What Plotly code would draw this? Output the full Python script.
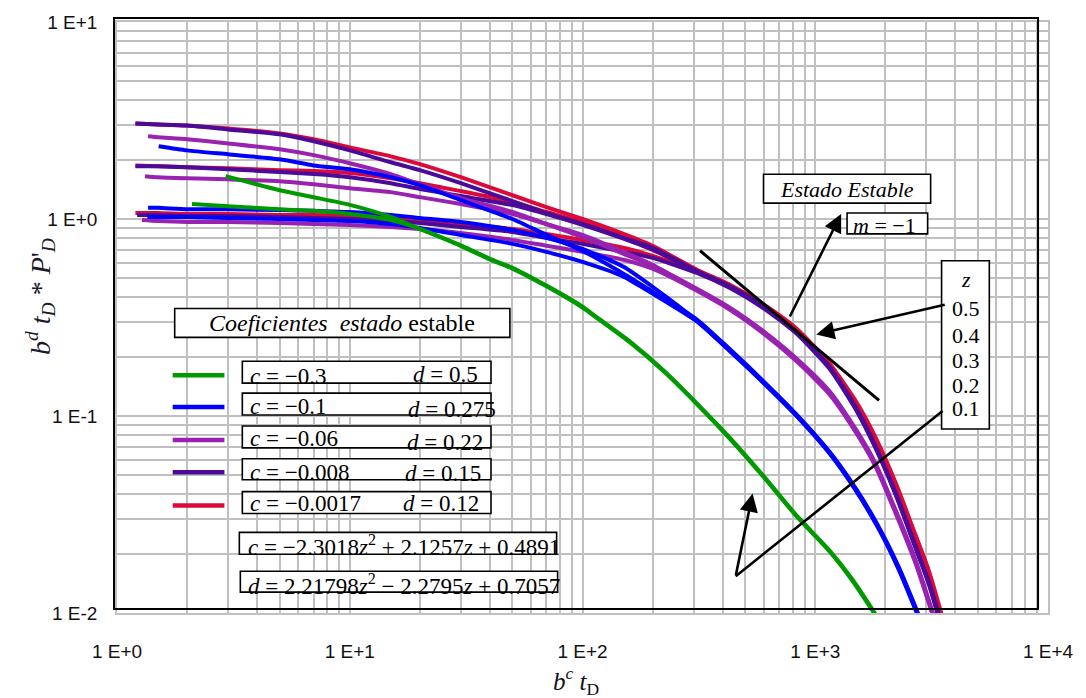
import plotly.graph_objects as go

# ---- curve data: dimensionless time vs. scaled pressure derivative ----
# Each colour holds three curves (different start levels) that merge at late time.
RED_A_X = [1.2, 1.5, 2, 3, 5, 7, 10, 15, 20, 30, 50, 70, 100, 150, 200, 310, 430, 600, 830, 1150, 1500, 1820, 2220, 2620, 3070, 3520]
RED_A_Y = [3.05, 3.02, 2.98, 2.88, 2.72, 2.54, 2.31, 2.08, 1.90, 1.63, 1.32, 1.15, 1.00, 0.840, 0.731, 0.553, 0.464, 0.368, 0.278, 0.185, 0.118, 0.0775, 0.0455, 0.0272, 0.0165, 0.0095]
RED_B_X = [1.2, 1.5, 2, 3, 5, 7, 10, 15, 20, 30, 50, 70, 100, 150, 200, 310, 430, 600, 830, 1150, 1500, 1820, 2220, 2620, 3070, 3480]
RED_B_Y = [1.87, 1.85, 1.83, 1.81, 1.77, 1.75, 1.71, 1.61, 1.52, 1.385, 1.219, 1.085, 0.966, 0.802, 0.697, 0.548, 0.458, 0.362, 0.273, 0.182, 0.116, 0.0760, 0.0447, 0.0268, 0.0162, 0.0095]
RED_C_X = [1.2, 1.5, 2, 3, 5, 7, 10, 15, 20, 30, 50, 70, 100, 150, 200, 310, 430, 600, 830, 1150, 1500, 1820, 2220, 2620, 3070, 3460]
RED_C_Y = [1.072, 1.072, 1.060, 1.060, 1.048, 1.048, 1.036, 1.012, 0.988, 0.943, 0.890, 0.840, 0.783, 0.714, 0.650, 0.540, 0.452, 0.357, 0.270, 0.180, 0.114, 0.0750, 0.0440, 0.0264, 0.0160, 0.0095]

INDIGO_A_X = [1.2, 1.5, 2, 3, 5, 7, 10, 15, 20, 30, 50, 70, 100, 150, 200, 310, 430, 600, 830, 1150, 1500, 1820, 2220, 2620, 3070, 3420]
INDIGO_A_Y = [3.05, 3.02, 2.98, 2.85, 2.69, 2.48, 2.23, 1.94, 1.77, 1.52, 1.233, 1.072, 0.943, 0.802, 0.714, 0.545, 0.455, 0.360, 0.268, 0.178, 0.110, 0.0700, 0.0405, 0.0240, 0.0145, 0.0095]
INDIGO_B_X = [1.2, 1.5, 2, 3, 5, 7, 10, 15, 20, 30, 50, 70, 100, 150, 200, 310, 430, 600, 830, 1150, 1500, 1820, 2220, 2620, 3070, 3400]
INDIGO_B_Y = [1.85, 1.85, 1.83, 1.79, 1.73, 1.69, 1.63, 1.52, 1.42, 1.307, 1.177, 1.060, 0.935, 0.795, 0.700, 0.540, 0.450, 0.356, 0.265, 0.176, 0.108, 0.0690, 0.0400, 0.0237, 0.0143, 0.0095]
INDIGO_C_X = [1.22, 1.5, 2, 3, 5, 7, 10, 15, 20, 30, 50, 70, 100, 150, 200, 310, 430, 600, 830, 1150, 1500, 1820, 2220, 2620, 3070, 3390]
INDIGO_C_Y = [1.048, 1.048, 1.036, 1.036, 1.024, 1.012, 1.000, 0.977, 0.954, 0.911, 0.860, 0.802, 0.748, 0.681, 0.635, 0.532, 0.446, 0.352, 0.262, 0.174, 0.107, 0.0682, 0.0396, 0.0234, 0.0141, 0.0095]

PURPLE_A_X = [1.36, 1.5, 2, 3, 5, 7, 10, 15, 20, 30, 50, 70, 100, 150, 200, 310, 430, 600, 830, 1150, 1500, 1820, 2220, 2700, 3250]
PURPLE_A_Y = [2.63, 2.60, 2.54, 2.42, 2.26, 2.11, 1.92, 1.69, 1.50, 1.277, 1.085, 0.943, 0.811, 0.666, 0.579, 0.443, 0.355, 0.269, 0.196, 0.134, 0.0850, 0.0572, 0.0331, 0.0185, 0.0095]
PURPLE_B_X = [1.32, 1.5, 2, 3, 5, 7, 10, 15, 20, 30, 50, 70, 100, 150, 200, 310, 430, 600, 830, 1150, 1500, 1820, 2220, 2700, 3230]
PURPLE_B_Y = [1.65, 1.63, 1.61, 1.59, 1.556, 1.502, 1.434, 1.369, 1.291, 1.191, 1.060, 0.943, 0.830, 0.681, 0.586, 0.438, 0.350, 0.265, 0.193, 0.131, 0.0832, 0.0560, 0.0324, 0.0181, 0.0095]
PURPLE_C_X = [1.28, 1.5, 2, 3, 5, 7, 10, 15, 20, 30, 50, 70, 100, 150, 200, 310, 430, 600, 830, 1150, 1500, 1820, 2220, 2700, 3220]
PURPLE_C_Y = [0.988, 0.977, 0.966, 0.966, 0.954, 0.943, 0.933, 0.911, 0.890, 0.850, 0.783, 0.731, 0.681, 0.621, 0.559, 0.432, 0.346, 0.262, 0.190, 0.129, 0.0820, 0.0551, 0.0319, 0.0178, 0.0095]

BLUE_A_X = [1.51, 2, 3, 5, 7, 10, 15, 20, 30, 50, 70, 100, 150, 200, 310, 430, 600, 830, 1150, 1500, 1880, 2290, 2790]
BLUE_A_Y = [2.34, 2.23, 2.13, 2.01, 1.87, 1.79, 1.63, 1.485, 1.247, 1.000, 0.830, 0.689, 0.528, 0.428, 0.309, 0.218, 0.150, 0.102, 0.0660, 0.0425, 0.0272, 0.0170, 0.0097]
BLUE_B_X = [1.36, 1.5, 2, 3, 5, 7, 10, 15, 20, 30, 50, 70, 100, 150, 200, 310, 430, 600, 830, 1150, 1500, 1880, 2290, 2770]
BLUE_B_Y = [1.14, 1.14, 1.12, 1.12, 1.11, 1.10, 1.085, 1.048, 1.012, 0.966, 0.880, 0.802, 0.705, 0.572, 0.453, 0.305, 0.215, 0.148, 0.101, 0.0652, 0.0419, 0.0268, 0.0167, 0.0097]
BLUE_C_X = [1.35, 1.5, 2, 3, 5, 7, 10, 15, 20, 30, 50, 70, 100, 150, 200, 310, 430, 600, 830, 1150, 1500, 1880, 2290, 2760]
BLUE_C_Y = [1.024, 1.024, 1.024, 1.012, 1.000, 0.988, 0.977, 0.943, 0.901, 0.830, 0.748, 0.681, 0.606, 0.510, 0.418, 0.302, 0.213, 0.147, 0.100, 0.0646, 0.0415, 0.0265, 0.0165, 0.0097]

GREEN_A_X = [2.93, 5, 7, 10, 15, 20, 30, 40, 50, 70, 100, 115, 160, 225, 310, 430, 600, 830, 1150, 1450, 1820]
GREEN_A_Y = [1.65, 1.40, 1.29, 1.18, 1.024, 0.890, 0.735, 0.628, 0.566, 0.459, 0.359, 0.318, 0.239, 0.169, 0.116, 0.0774, 0.0495, 0.0313, 0.0208, 0.0147, 0.0098]
GREEN_B_X = [2.1, 3, 5, 7, 10, 15, 20, 30, 40, 50, 70, 100, 115, 160, 225, 310, 430, 600, 830, 1150, 1450, 1810]
GREEN_B_Y = [1.19, 1.16, 1.12, 1.10, 1.06, 0.988, 0.890, 0.730, 0.624, 0.560, 0.455, 0.355, 0.315, 0.236, 0.167, 0.115, 0.0766, 0.0490, 0.0310, 0.0206, 0.0145, 0.0098]

# steady-state straight line of unit slope (m = -1)
TANGENT_X = [320, 1880]
TANGENT_Y = [0.69, 0.12]

# legend rows: colour, c value, d value
LEGEND_COLORS = ["#009A00", "#0000FF", "#9A22B0", "#4A0A9A", "#DC0A3A"]
LEGEND_C = ["−0.3", "−0.1", "−0.06", "−0.008", "−0.0017"]
LEGEND_D = ["0.5", "0.275", "0.22", "0.15", "0.12"]
Z_LABELS = ["0.5", "0.4", "0.3", "0.2", "0.1"]

X_TICKS = [1, 10, 100, 1000, 10000]
X_TICKTEXT = ["1 E+0", "1 E+1", "1 E+2", "1 E+3", "1 E+4"]
Y_TICKS = [0.01, 0.1, 1, 10]
Y_TICKTEXT = ["1 E-2", "1 E-1", "1 E+0", "1 E+1"]

GREEN, BLUE, PURPLE, INDIGO, RED = LEGEND_COLORS

W, H = 1086, 698
ML, MR, MT, MB = 117, 33, 19, 85
PW, PH = W - ML - MR, H - MT - MB


def px(x):
    return (x - ML) / PW


def py(y):
    return (H - MB - y) / PH


SERIF = "Liberation Serif, Times New Roman, serif"
SANS = "Liberation Sans, Arial, sans-serif"

fig = go.Figure()

curves = [
    (RED_A_X, RED_A_Y, RED), (RED_B_X, RED_B_Y, RED), (RED_C_X, RED_C_Y, RED),
    (INDIGO_A_X, INDIGO_A_Y, INDIGO), (INDIGO_B_X, INDIGO_B_Y, INDIGO), (INDIGO_C_X, INDIGO_C_Y, INDIGO),
    (PURPLE_A_X, PURPLE_A_Y, PURPLE), (PURPLE_B_X, PURPLE_B_Y, PURPLE), (PURPLE_C_X, PURPLE_C_Y, PURPLE),
    (BLUE_A_X, BLUE_A_Y, BLUE), (BLUE_B_X, BLUE_B_Y, BLUE), (BLUE_C_X, BLUE_C_Y, BLUE),
    (GREEN_A_X, GREEN_A_Y, GREEN), (GREEN_B_X, GREEN_B_Y, GREEN),
]
for xs, ys, col in curves:
    fig.add_trace(go.Scatter(x=xs, y=ys, mode="lines", line=dict(color=col, width=4, shape="spline", smoothing=0.6),
                             showlegend=False, hoverinfo="skip"))

fig.add_trace(go.Scatter(x=TANGENT_X, y=TANGENT_Y, mode="lines",
                         line=dict(color="black", width=3), showlegend=False, hoverinfo="skip"))

minor_x = [k * 10 ** n for n in range(0, 4) for k in range(2, 10)]
minor_y = [k * 10.0 ** n for n in range(-2, 1) for k in range(2, 10)]

grid_col = "#c0c0c0"
fig.update_xaxes(type="log", range=[0, 4], tickvals=X_TICKS, ticktext=X_TICKTEXT,
                 showgrid=True, gridcolor=grid_col, gridwidth=1.6,
                 minor=dict(tickvals=minor_x, showgrid=True, gridcolor=grid_col, gridwidth=1.6, ticks=""),
                 ticks="outside", ticklen=20, tickcolor="rgba(0,0,0,0)",
                 tickfont=dict(family=SANS, size=19, color="#111"),
                 showline=True, linecolor=grid_col, linewidth=1.6, mirror=True, zeroline=False)
fig.update_yaxes(type="log", range=[-2, 1], tickvals=Y_TICKS, ticktext=Y_TICKTEXT,
                 showgrid=True, gridcolor=grid_col, gridwidth=1.6,
                 minor=dict(tickvals=minor_y, showgrid=True, gridcolor=grid_col, gridwidth=1.6, ticks=""),
                 ticks="outside", ticklen=14, tickcolor="rgba(0,0,0,0)",
                 tickfont=dict(family=SANS, size=19, color="#111"),
                 showline=True, linecolor=grid_col, linewidth=1.6, mirror=True, zeroline=False)

shapes = []
# black chart frame
shapes.append(dict(type="rect", xref="paper", yref="paper", x0=px(114), x1=px(1043), y0=py(609), y1=py(15),
                   line=dict(color="black", width=2), fillcolor="rgba(0,0,0,0)", layer="above"))


def box(x0, y0, x1, y1):
    shapes.append(dict(type="rect", xref="paper", yref="paper", x0=px(x0), x1=px(x1), y0=py(y1), y1=py(y0),
                       line=dict(color="black", width=1.6), fillcolor="white", layer="above"))


annotations = []


def text(x, y, s, size=22, xanchor="left", family=SERIF):
    annotations.append(dict(x=px(x), y=py(y), xref="paper", yref="paper", text=s, showarrow=False,
                            xanchor=xanchor, yanchor="middle", font=dict(family=family, size=size, color="black")))


# title box of the coefficient table
box(175, 307, 512, 336)
text(343, 322, "<i>Coeficientes  estado</i> estable", size=24, xanchor="center")

# legend rows
row_boxes = [(360, 382), (392, 414), (425, 447), (458, 479), (491, 513)]
d_x = [413, 408, 407, 405, 403]
c_dy = [375, 405, 438, 472, 503]
d_dy = [373, 408, 442, 473, 503]
for i, col in enumerate(LEGEND_COLORS):
    y0, y1 = row_boxes[i]
    shapes.append(dict(type="line", xref="paper", yref="paper", x0=px(173), x1=px(225),
                       y0=py((y0 + y1) / 2 + 3), y1=py((y0 + y1) / 2 + 3), line=dict(color=col, width=4.5)))
    box(243, y0, 493, y1)
    text(249, c_dy[i], "<i>c</i> = " + LEGEND_C[i], size=23)
    text(d_x[i], d_dy[i], "<i>d</i> = " + LEGEND_D[i], size=23)

# fitted expressions
box(240, 532, 559, 554)
text(247, 545, "<i>c</i> = −2.3018<i>z</i><sup>2</sup> + 2.1257<i>z</i> + 0.4891", size=23)
box(241, 571, 560, 592)
text(247, 584, "<i>d</i> = 2.21798<i>z</i><sup>2</sup> − 2.2795<i>z</i> + 0.7057", size=23)

# steady-state labels
box(767, 172, 935, 201)
text(851, 187, "<i>Estado Estable</i>", size=22, xanchor="center")
box(851, 211, 932, 232)
text(889, 224, "<i>m</i> = −1", size=22, xanchor="center")

# z box
box(946, 259, 994, 428)
text(971, 278, "<i>z</i>", size=22, xanchor="center")
for lab, yy in zip(Z_LABELS, [307, 334, 359, 384, 407]):
    text(971, yy, lab, size=22, xanchor="center")

# arrows


def arrow(tx, ty, hx, hy):
    annotations.append(dict(x=px(hx), y=py(hy), xref="paper", yref="paper", ax=tx - hx, ay=ty - hy,
                            axref="pixel", ayref="pixel", text="", showarrow=True, arrowhead=2,
                            arrowsize=1.4, arrowwidth=2.6, arrowcolor="black", standoff=0, startstandoff=0))


arrow(793, 316, 845, 212)
arrow(950, 303, 820, 333)
shapes.append(dict(type="line", xref="paper", yref="paper", x0=px(947), y0=py(410), x1=px(739), y1=py(576),
                   line=dict(color="black", width=2.6)))
arrow(739, 576, 756, 493)

# axis titles
annotations.append(dict(x=px(578), y=py(681), xref="paper", yref="paper", showarrow=False,
                        text="<i>b<sup>c</sup> t</i><sub>D</sub>", xanchor="center", yanchor="middle",
                        font=dict(family=SERIF, size=25, color="#111")))
annotations.append(dict(x=px(40), y=py(295), xref="paper", yref="paper", showarrow=False, textangle=-90,
                        text="<i>b<sup>d</sup> t<sub>D</sub></i> * <i>P</i>'<sub><i>D</i></sub>",
                        xanchor="center", yanchor="middle",
                        font=dict(family=SERIF, size=28, color="#1a1a2a")))

fig.update_layout(width=W, height=H, margin=dict(l=ML, r=MR, t=MT, b=MB),
                  paper_bgcolor="white", plot_bgcolor="white",
                  shapes=shapes, annotations=annotations, showlegend=False)

fig.write_html("out.html")
